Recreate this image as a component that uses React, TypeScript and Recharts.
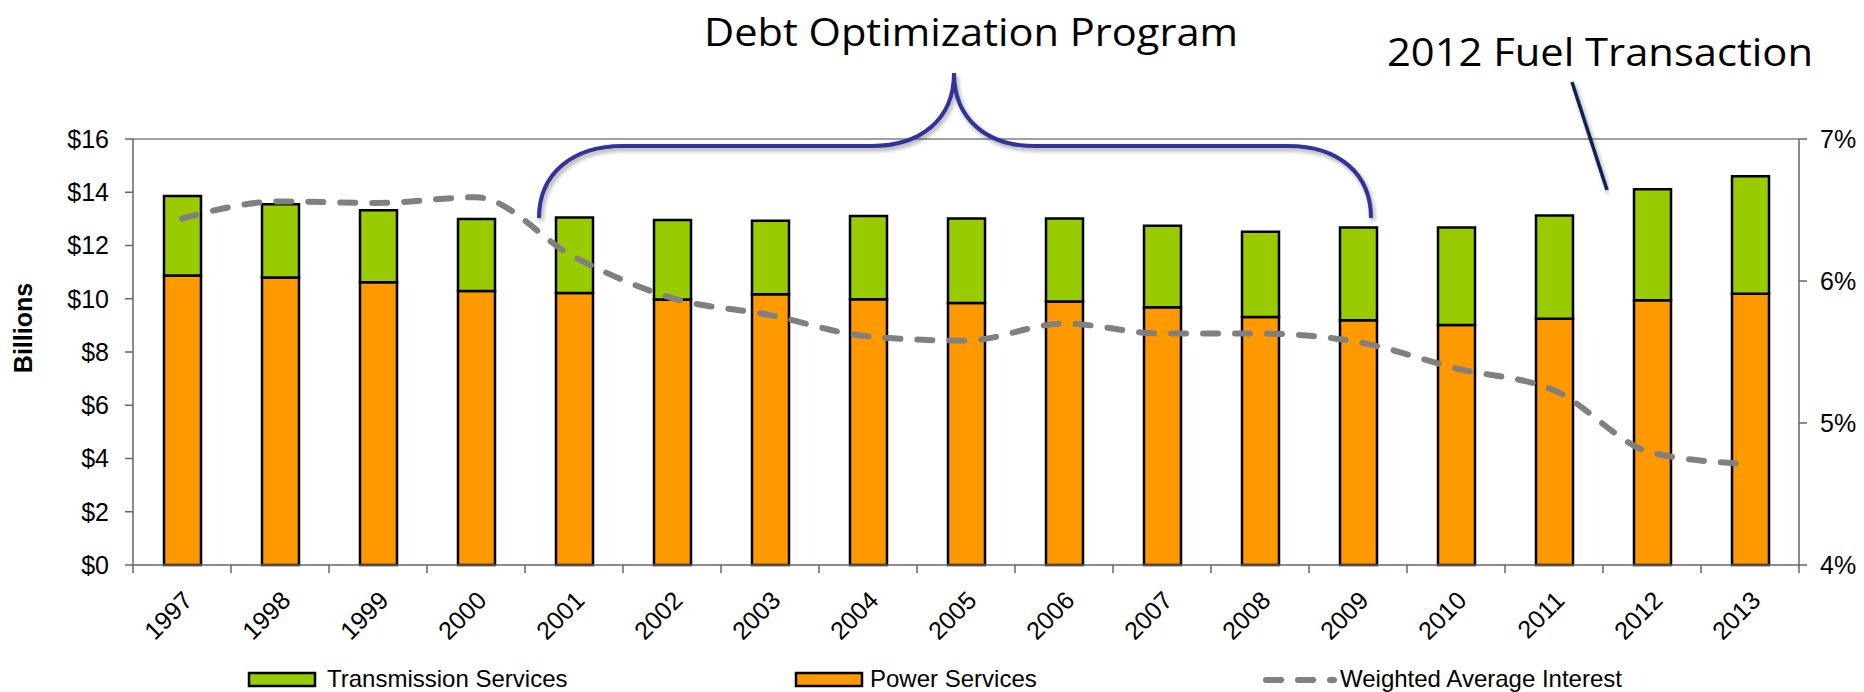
import React from "react";
import {
  ComposedChart,
  Bar,
  Line,
  XAxis,
  YAxis,
  ReferenceLine,
  Legend,
} from "recharts";

// ---------- data ----------
const YEARS = [
  "1997", "1998", "1999", "2000", "2001", "2002", "2003", "2004", "2005",
  "2006", "2007", "2008", "2009", "2010", "2011", "2012", "2013",
];
const POWER_SERVICES = [
  10.87, 10.8, 10.62, 10.29, 10.22, 9.97, 10.17, 9.98, 9.84, 9.9, 9.68, 9.31,
  9.19, 9.01, 9.25, 9.94, 10.19,
];
const TRANSMISSION_SERVICES = [
  2.99, 2.75, 2.7, 2.71, 2.83, 2.99, 2.76, 3.13, 3.17, 3.11, 3.06, 3.21, 3.49,
  3.67, 3.88, 4.17, 4.41,
];
const WEIGHTED_AVG_INTEREST = [
  6.44, 6.56, 6.55, 6.59, 6.17, 5.88, 5.76, 5.61, 5.58, 5.7, 5.63, 5.63, 5.57,
  5.385, 5.23, 4.79, 4.71,
];
const LEFT_TICKS = [0, 2, 4, 6, 8, 10, 12, 14, 16];
const RIGHT_TICKS = [4, 5, 6, 7];

const data = YEARS.map((year, i) => ({
  year,
  power: POWER_SERVICES[i],
  transmission: TRANSMISSION_SERVICES[i],
  interest: WEIGHTED_AVG_INTEREST[i],
}));

// ---------- style ----------
const W = 1856;
const H = 684;
const FONT = '"Liberation Sans", Arial, sans-serif';
const ANNOT_FONT = '"Open Sans", "Noto Sans", sans-serif';
const AXIS_COLOR = "#666666";
const ORANGE = "#FF9900";
const GREEN = "#99CC00";
const GRAY_LINE = "#808080";
const BRACE = "#333399";
const MARGIN = { top: 131, right: 5, bottom: 67, left: 45 };
const PLOT_W = W - MARGIN.left - MARGIN.right - 80 - 60;
const HALF_BAND = PLOT_W / YEARS.length / 2;
const DASH = "15 17";

const XTick = (props: any) => {
  const { x, y, payload, index } = props;
  const ax = x + 12;
  const ay = y + 37;
  return (
    <g>
      <line x1={x - HALF_BAND} y1={y} x2={x - HALF_BAND} y2={y + 8} stroke={AXIS_COLOR} strokeWidth={1.5} />
      {index === YEARS.length - 1 && (
        <line x1={x + HALF_BAND} y1={y} x2={x + HALF_BAND} y2={y + 8} stroke={AXIS_COLOR} strokeWidth={1.5} />
      )}
      <text
        x={ax}
        y={ay}
        transform={`rotate(-45 ${ax} ${ay})`}
        textAnchor="end"
        fontSize={25}
        fontFamily={FONT}
        fill="#000"
      >
        {payload.value}
      </text>
    </g>
  );
};

const BillionsLabel = (props: any) => {
  const vb = props.viewBox || { x: 45, y: 131, width: 80, height: 426 };
  const cx = vb.x - 30;
  const cy = vb.y + vb.height / 2 - 24;
  return (
    <text
      x={cx}
      y={cy}
      transform={`rotate(-90 ${cx} ${cy})`}
      textAnchor="middle"
      dominantBaseline="central"
      fontSize={25}
      fontWeight="bold"
      fontFamily={FONT}
      fill="#000"
    >
      Billions
    </text>
  );
};

const LegendContent = () => (
  <svg width={W} height={29} style={{ display: "block", overflow: "visible" }}>
    <rect x={241} y={10} width={66} height={13} fill={GREEN} stroke="#000" strokeWidth={2.5} />
    <text x={319} y={24} fontSize={24} fontFamily={FONT} fill="#000">
      Transmission Services
    </text>
    <rect x={788} y={10} width={66} height={13} fill={ORANGE} stroke="#000" strokeWidth={2.5} />
    <text x={862} y={24} fontSize={24} fontFamily={FONT} fill="#000">
      Power Services
    </text>
    <line
      x1={1258}
      y1={17}
      x2={1326}
      y2={17}
      stroke={GRAY_LINE}
      strokeWidth={6}
      strokeDasharray={DASH}
      strokeLinecap="round"
    />
    <text x={1332} y={24} fontSize={24} fontFamily={FONT} fill="#000">
      Weighted Average Interest
    </text>
  </svg>
);

export default function App() {
  return (
    <div style={{ position: "relative", width: W, height: H }}>
      <ComposedChart width={W} height={H} data={data} margin={MARGIN}>
        <XAxis
          dataKey="year"
          xAxisId="x"
          interval={0}
          tickLine={false}
          tickSize={0}
          tickMargin={0}
          height={60}
          axisLine={{ stroke: AXIS_COLOR, strokeWidth: 1.5 }}
          tick={<XTick />}
        />
        <YAxis
          yAxisId="left"
          orientation="left"
          width={80}
          domain={[0, 16]}
          ticks={LEFT_TICKS}
          interval={0}
          tickFormatter={(v: number) => `$${v}`}
          tickSize={8}
          tickMargin={16}
          tick={{ fontSize: 25, fill: "#000", fontFamily: FONT }}
          tickLine={{ stroke: AXIS_COLOR, strokeWidth: 1.5 }}
          axisLine={{ stroke: AXIS_COLOR, strokeWidth: 1.5 }}
          label={<BillionsLabel />}
        />
        <YAxis
          yAxisId="right"
          orientation="right"
          width={60}
          domain={[4, 7]}
          ticks={RIGHT_TICKS}
          interval={0}
          tickFormatter={(v: number) => `${v}%`}
          tickSize={8}
          tickMargin={13}
          tick={{ fontSize: 25, fill: "#000", fontFamily: FONT, textAnchor: "start" }}
          tickLine={{ stroke: AXIS_COLOR, strokeWidth: 1.5 }}
          axisLine={{ stroke: AXIS_COLOR, strokeWidth: 1.5 }}
        />
        <ReferenceLine yAxisId="left" xAxisId="x" y={16} stroke="#A0A0A0" strokeWidth={2} />
        <Bar
          xAxisId="x"
          yAxisId="left"
          dataKey="power"
          name="Power Services"
          stackId="a"
          fill={ORANGE}
          stroke="#000"
          strokeWidth={2.5}
          barSize={37}
          isAnimationActive={false}
        />
        <Bar
          xAxisId="x"
          yAxisId="left"
          dataKey="transmission"
          name="Transmission Services"
          stackId="a"
          fill={GREEN}
          stroke="#000"
          strokeWidth={2.5}
          barSize={37}
          isAnimationActive={false}
        />
        <Line
          xAxisId="x"
          yAxisId="right"
          dataKey="interest"
          name="Weighted Average Interest"
          type="monotone"
          stroke={GRAY_LINE}
          strokeWidth={6}
          strokeDasharray={DASH}
          strokeLinecap="round"
          dot={false}
          activeDot={false}
          isAnimationActive={false}
        />
        <Legend
          layout="horizontal"
          verticalAlign="middle"
          align="center"
          wrapperStyle={{ left: 0, top: 655, width: W, height: 29 }}
          content={<LegendContent />}
        />
      </ComposedChart>
      <svg
        width={W}
        height={H}
        style={{ position: "absolute", left: 0, top: 0, pointerEvents: "none", overflow: "visible" }}
      >
        <defs>
          <filter id="shadow" x="-5%" y="-20%" width="110%" height="140%">
            <feGaussianBlur in="SourceAlpha" stdDeviation="2" />
            <feOffset dx="2" dy="3" result="off" />
            <feComponentTransfer>
              <feFuncA type="linear" slope="0.35" />
            </feComponentTransfer>
            <feMerge>
              <feMergeNode />
              <feMergeNode in="SourceGraphic" />
            </feMerge>
          </filter>
        </defs>
        <path
          d="M 531 210 C 531 165, 565 138, 615 138 L 864 138 C 912 138, 946 112, 946 65 C 946 112, 980 138, 1026 138 L 1280 138 C 1330 138, 1363 165, 1363 210"
          fill="none"
          stroke={BRACE}
          strokeWidth={4}
          filter="url(#shadow)"
        />
        <line x1={1564} y1={74} x2={1599} y2={182} stroke="#0C2451" strokeWidth={3.5} filter="url(#shadow)" />
        <text
          x={696}
          y={38}
          fontSize={39}
          fontFamily={ANNOT_FONT}
          textLength={534}
          lengthAdjust="spacingAndGlyphs"
          fill="#000"
        >
          Debt Optimization Program
        </text>
        <text
          x={1379}
          y={58}
          fontSize={39}
          fontFamily={ANNOT_FONT}
          textLength={426}
          lengthAdjust="spacingAndGlyphs"
          fill="#000"
        >
          2012 Fuel Transaction
        </text>
      </svg>
    </div>
  );
}
